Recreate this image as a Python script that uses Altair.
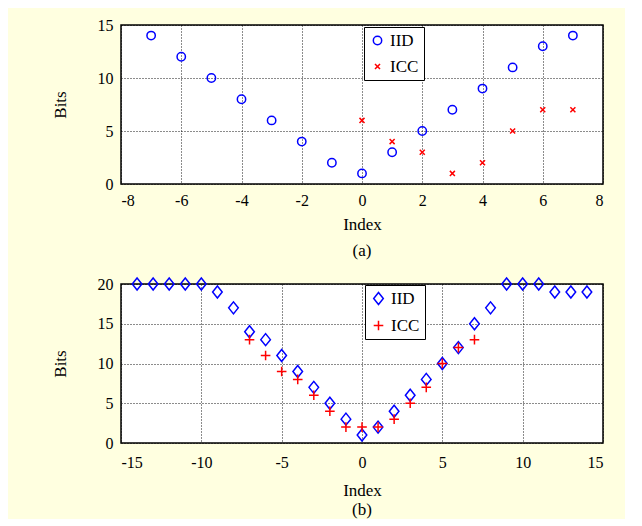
import altair as alt
import pandas as pd

# ---- data ----
a_iid_x = list(range(-7, 8))
a_iid_y = [14, 12, 10, 8, 6, 4, 2, 1, 3, 5, 7, 9, 11, 13, 14]
a_icc_x = list(range(0, 8))
a_icc_y = [6, 4, 3, 1, 2, 5, 7, 7]

b_iid_x = list(range(-14, 15))
b_iid_y = [20, 20, 20, 20, 20, 19, 17, 14, 13, 11, 9, 7, 5, 3, 1,
           2, 4, 6, 8, 10, 12, 15, 17, 20, 20, 20, 19, 19, 19]
b_icc_x = list(range(-7, 8))
b_icc_y = [13, 11, 9, 8, 6, 4, 2, 2, 2, 3, 5, 7, 10, 12, 13]

series = ["IID", "ICC"]
colors = ["#0000ff", "#ff0000"]

a_xticks = [-8, -6, -4, -2, 0, 2, 4, 6, 8]
a_yticks = [0, 5, 10, 15]
b_xticks = [-15, -10, -5, 0, 5, 10, 15]
b_yticks = [0, 5, 10, 15, 20]

FONT = "Liberation Serif, Times New Roman, serif"


def make_df(ix, iy, cx, cy):
    return pd.DataFrame({
        "Index": ix + cx,
        "Bits": iy + cy,
        "Series": ["IID"] * len(ix) + ["ICC"] * len(cx),
    })


def panel(df, xdom, xticks, ydom, yticks, shapes, size, caption, lx, ly,
          xlabpad, xtitlepad, capoffset):
    leg = alt.Legend(orient="none", legendX=lx, legendY=ly, title=None,
                     strokeColor="black", fillColor="white", padding=5,
                     labelFont=FONT, labelFontSize=17, labelColor="black",
                     rowPadding=8, labelOffset=4, symbolSize=size,
                     symbolStrokeWidth=1.5, cornerRadius=0)
    return alt.Chart(df).mark_point(
        filled=False, size=size, strokeWidth=1.5, opacity=1, clip=False
    ).encode(
        x=alt.X("Index:Q", scale=alt.Scale(domain=xdom, nice=False, zero=False),
                axis=alt.Axis(values=xticks, title="Index",
                              labelPadding=xlabpad, titlePadding=xtitlepad,
                              labelExpr="toString(datum.value)")),
        y=alt.Y("Bits:Q", scale=alt.Scale(domain=ydom, nice=False, zero=False),
                axis=alt.Axis(values=yticks, title="Bits",
                              labelExpr="toString(datum.value)")),
        color=alt.Color("Series:N", scale=alt.Scale(domain=series, range=colors), legend=leg),
        shape=alt.Shape("Series:N", scale=alt.Scale(domain=series, range=shapes), legend=leg),
    ).properties(
        width=482, height=159,
        title=alt.TitleParams(caption, orient="bottom", anchor="middle", frame="group",
                              font=FONT, fontSize=17, fontWeight="normal",
                              color="black", offset=capoffset),
    )


top = panel(make_df(a_iid_x, a_iid_y, a_icc_x, a_icc_y), [-8, 8], a_xticks, [0, 15], a_yticks,
            ["circle", "M-0.6,-0.6L0.6,0.6M-0.6,0.6L0.6,-0.6"], 70, "(a)", 243, 2,
            8, 8, 11)
bottom = panel(make_df(b_iid_x, b_iid_y, b_icc_x, b_icc_y), [-15, 15], b_xticks, [0, 20], b_yticks,
               ["M0,-1L0.8,0L0,1L-0.8,0Z", "M-0.8,0L0.8,0M0,-0.8L0,0.8"], 144, "(b)", 244, 1,
               11, 12, 4)

chart = alt.vconcat(top, bottom, spacing=14).resolve_scale(
    color="independent", shape="independent"
).properties(
    background="#ffffe0",
    padding={"left": 42, "top": 8, "right": 20, "bottom": 0},
).configure_view(
    stroke="black", strokeWidth=1.5, fill="white"
).configure_axis(
    labelFont=FONT, labelFontSize=16, labelColor="black", labelPadding=8,
    titleFont=FONT, titleFontSize=17, titleFontWeight="normal", titleColor="black",
    grid=True, gridColor="black", gridDash=[1, 2], gridOpacity=0.9, gridWidth=1,
    domain=False, tickSize=0,
).configure_axisY(titlePadding=28)

chart.save("out.html", embed_options={"renderer": "svg", "actions": False})
